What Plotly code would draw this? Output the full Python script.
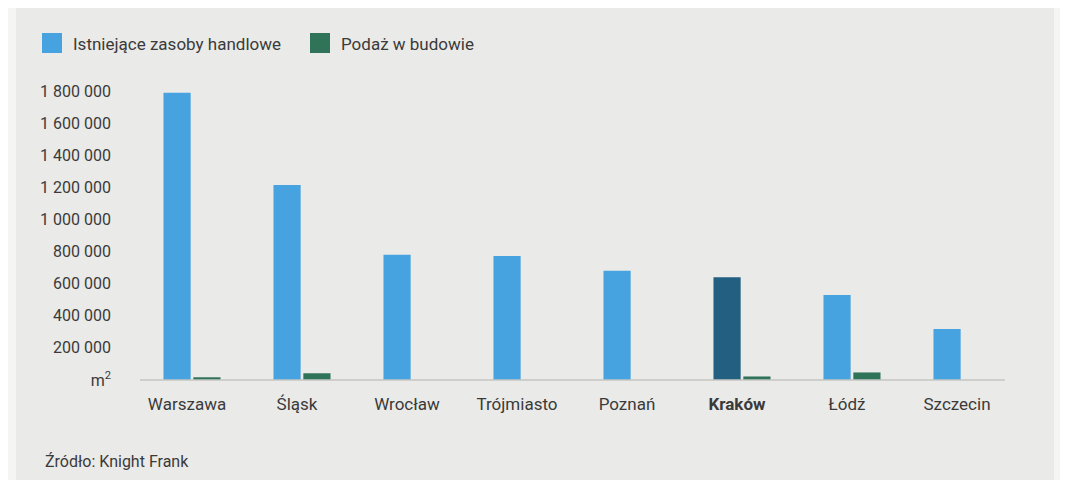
import plotly.graph_objects as go

categories = ["Warszawa", "Śląsk", "Wrocław", "Trójmiasto", "Poznań", "Kraków", "Łódź", "Szczecin"]
highlight = "Kraków"
existing = [1790000, 1215000, 780000, 772000, 680000, 640000, 530000, 317000]
under_construction = [17000, 42000, 0, 0, 0, 22000, 47000, 0]
series_names = ["Istniejące zasoby handlowe", "Podaż w budowie"]
y_tickvals = [0, 200000, 400000, 600000, 800000, 1000000, 1200000, 1400000, 1600000, 1800000]
y_ticktext = ["m<sup>2</sup>", "200 000", "400 000", "600 000", "800 000", "1 000 000",
              "1 200 000", "1 400 000", "1 600 000", "1 800 000"]
source_text = "Źródło: Knight Frank"

BLUE = "#47a2e0"
DARK_BLUE = "#235f80"
GREEN = "#2f7459"
TEXT = "#3a3a3a"
FONT = "Roboto"

blue_colors = [DARK_BLUE if c == highlight else BLUE for c in categories]
x_ticktext = [f"<b>{c}</b>" if c == highlight else c for c in categories]

fig = go.Figure()
fig.add_trace(go.Bar(x=categories, y=existing, name=series_names[0],
                     marker=dict(color=blue_colors, line=dict(width=0)),
                     showlegend=False))
fig.add_trace(go.Bar(x=categories, y=under_construction, name=series_names[1],
                     marker=dict(color=GREEN, line=dict(width=0)),
                     showlegend=False))

W, H = 1068, 480
OFF = 8  # page body margin shifts the figure on screen
# plot area on screen: x 137..1017, y 83..380
L = 137 - OFF
R = W - (1017 - OFF)
T = 83 - OFF
B = H - (380 - OFF)
pw, ph = W - L - R, H - T - B

def px_x(p):
    return (p - OFF - L) / pw

def px_y(p):
    return (H - B - (p - OFF)) / ph

# textured panel background
fig.add_shape(type="rect", xref="paper", yref="paper",
              x0=px_x(16), x1=px_x(1054), y0=px_y(490), y1=px_y(6),
              fillcolor="#eaeae8", line=dict(width=0), layer="below")
# baseline
fig.add_shape(type="line", xref="paper", yref="paper",
              x0=px_x(140), x1=px_x(1005), y0=0, y1=0,
              line=dict(color="#c4c4c2", width=1.5), layer="above")

# legend (squares + labels)
legend_items = [(series_names[0], BLUE, 42), (series_names[1], GREEN, 310)]
for name, col, lx in legend_items:
    fig.add_shape(type="rect", xref="paper", yref="paper",
                  x0=px_x(lx), x1=px_x(lx + 20), y0=px_y(53), y1=px_y(33),
                  fillcolor=col, line=dict(width=0))
    fig.add_annotation(text=name, xref="paper", yref="paper",
                       x=px_x(lx + 29), y=px_y(44), xanchor="left", yanchor="middle",
                       showarrow=False, font=dict(family=FONT, size=17, color=TEXT))

fig.add_annotation(text=source_text, xref="paper", yref="paper",
                   x=px_x(43), y=px_y(461), xanchor="left", yanchor="middle",
                   showarrow=False, font=dict(family=FONT, size=16, color=TEXT))

fig.update_layout(
    width=W, height=H,
    margin=dict(l=L, r=R, t=T, b=B),
    paper_bgcolor="#f5f5f4",
    plot_bgcolor="rgba(0,0,0,0)",
    barmode="group",
    bargap=0.457,
    bargroupgap=0.09,
    font=dict(family=FONT, size=16, color=TEXT),
    showlegend=False,
    xaxis=dict(tickmode="array", tickvals=categories, ticktext=x_ticktext,
               showgrid=False, showline=False, zeroline=False, ticks="",
               ticklabelstandoff=12, ticklabelshift=-5,
               tickfont=dict(family=FONT, size=17, color=TEXT),
               range=[-0.5, len(categories) - 0.5]),
    yaxis=dict(tickmode="array", tickvals=y_tickvals, ticktext=y_ticktext,
               range=[0, 1850000], showgrid=False, showline=False,
               zeroline=False, ticks="", ticklabelstandoff=25,
               tickfont=dict(family=FONT, size=16, color=TEXT)),
)

fig.write_html("out.html")
